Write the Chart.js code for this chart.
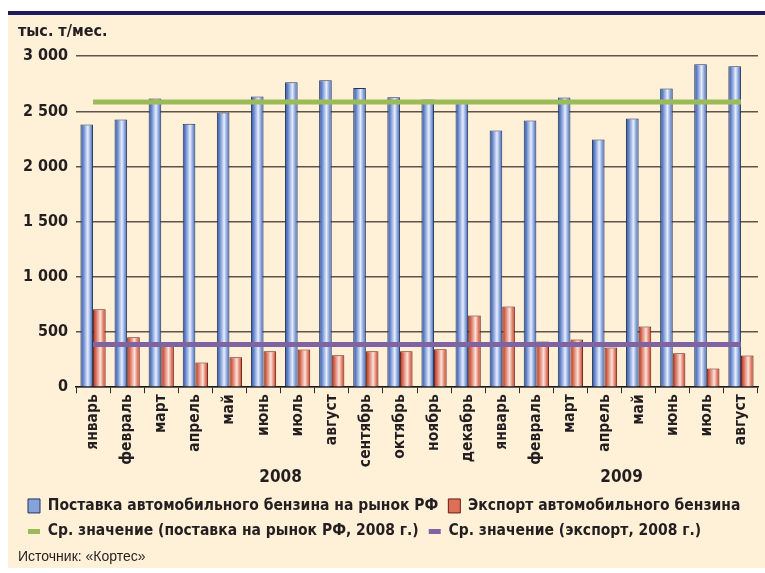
<!DOCTYPE html>
<html>
<head>
<meta charset="utf-8">
<script src="https://cdn.jsdelivr.net/npm/chart.js@4.4.0/dist/chart.umd.min.js"></script>
<style>
  html, body { margin: 0; padding: 0; background: #ffffff; }
  #frame { position: absolute; left: 8px; top: 11px; width: 757px; height: 553px;
           border-top: 4px solid #1f1b5c; background: #fff0d8; }
  canvas { display: block; }
</style>
</head>
<body>
<div id="frame"><canvas id="chart" width="757" height="553"></canvas></div>
<script>
// месяцы (2008: январь-декабрь, 2009: январь-август)
const months = ['январь', 'февраль', 'март', 'апрель', 'май', 'июнь', 'июль', 'август',
  'сентябрь', 'октябрь', 'ноябрь', 'декабрь',
  'январь', 'февраль', 'март', 'апрель', 'май', 'июнь', 'июль', 'август'];
const years = ['2008', '2009'];
const yearCentres = [5.5, 15.5];

// тыс. т/мес.
const supply = [2381, 2427, 2617, 2387, 2490, 2635, 2765, 2783, 2711, 2629, 2608, 2587,
  2327, 2418, 2626, 2246, 2436, 2708, 2926, 2908];
const exportVals = [707, 453, 375, 224, 272, 326, 342, 290, 326, 326, 344, 650,
  731, 414, 432, 360, 550, 308, 169, 287];
const avgSupply2008 = 2585;
const avgExport2008 = 387;
const yTicks = [0, 500, 1000, 1500, 2000, 2500, 3000];

const FONT = '"Liberation Sans Narrow", "Arial Narrow", "DejaVu Sans Condensed", sans-serif';
const INK = '#231f20';
const CAT_PCT = 0.74;

const blueStops = [[0, '#34549a'], [0.2, '#5f80c6'], [0.58, '#e6edff'], [0.85, '#7493d2'], [1, '#3f5fa6']];
const redStops = [[0, '#a52e1b'], [0.2, '#d4654f'], [0.58, '#fde2da'], [0.85, '#dc6f58'], [1, '#b53b26']];

function barGradient(stops, fallback) {
  return (ctx) => {
    const chart = ctx.chart;
    const area = chart.chartArea;
    const x = chart.scales.x;
    if (!area || !x || ctx.type !== 'data') return fallback;
    const centre = x.getPixelForValue(ctx.dataIndex);
    const half = (area.right - area.left) / months.length * CAT_PCT / 2;
    const left = ctx.datasetIndex === 0 ? centre - half : centre;
    const g = chart.ctx.createLinearGradient(left, 0, left + half, 0);
    stops.forEach(([o, c]) => g.addColorStop(o, c));
    return g;
  };
}

function fmt(v) {
  return v >= 1000 ? Math.floor(v / 1000) + ' ' + String(v % 1000).padStart(3, '0') : String(v);
}

Chart.defaults.font.family = FONT;
Chart.defaults.font.weight = 'bold';
Chart.defaults.color = INK;

new Chart(document.getElementById('chart'), {
  type: 'bar',
  data: {
    labels: months,
    datasets: [
      { label: 'Поставка автомобильного бензина на рынок РФ', data: supply,
        backgroundColor: barGradient(blueStops, '#8aa6dc'), borderColor: '#22345e', borderWidth: 1,
        legendColor: '#86a2da' },
      { label: 'Экспорт автомобильного бензина', data: exportVals,
        backgroundColor: barGradient(redStops, '#e07a64'), borderColor: '#6a1b10', borderWidth: 1,
        legendColor: '#dc6f58' },
      // средние за 2008 г.: от первого до последнего месяца (x = индекс категории)
      { type: 'line', label: 'Ср. значение (поставка на рынок РФ, 2008 г.)', order: -1, parsing: false,
        data: [{ x: 0, y: avgSupply2008 }, { x: months.length - 1, y: avgSupply2008 }],
        borderColor: '#9bbb59', borderWidth: 5, pointRadius: 0, legendColor: '#9bbb59' },
      { type: 'line', label: 'Ср. значение (экспорт, 2008 г.)', order: -1, parsing: false,
        data: [{ x: 0, y: avgExport2008 }, { x: months.length - 1, y: avgExport2008 }],
        borderColor: '#8064a2', borderWidth: 5, pointRadius: 0, legendColor: '#8064a2' }
    ]
  },
  options: {
    responsive: false,
    animation: false,
    devicePixelRatio: 1,
    layout: { padding: { left: 10, right: 7, top: 0, bottom: 0 } },
    datasets: { bar: { categoryPercentage: CAT_PCT, barPercentage: 1 } },
    scales: {
      x: {
        type: 'category',
        afterFit: (scale) => { scale.height = 80; },
        grid: { drawOnChartArea: false, drawTicks: true, tickLength: 6, color: '#2a2a2a', offset: true },
        border: { display: true, color: '#1a1a1a', width: 1.5 },
        ticks: { font: { size: 15.5 }, maxRotation: 90, minRotation: 90, autoSkip: false, padding: 1 }
      },
      xYear: {
        type: 'linear', position: 'bottom', weight: 1, offset: false, bounds: 'data',
        min: -0.5, max: months.length - 0.5,
        afterFit: (scale) => { scale.height = 21; },
        grid: { display: false, drawTicks: false, offset: false }, border: { display: false },
        afterBuildTicks: (axis) => { axis.ticks = yearCentres.map(v => ({ value: v })); },
        ticks: { font: { size: 17 }, maxRotation: 0, autoSkip: false, padding: 0,
          callback: (v, i) => years[i] }
      },
      y: {
        min: 0, max: 3000,
        afterFit: (scale) => { scale.width = 58; },
        afterBuildTicks: (axis) => { axis.ticks = yTicks.map(v => ({ value: v })); },
        grid: { drawTicks: false, color: '#5e544c', lineWidth: 1.5 },
        border: { display: false },
        ticks: { font: { size: 16 }, padding: 8, callback: (v) => fmt(v) }
      }
    },
    plugins: {
      tooltip: { enabled: false },
      subtitle: { display: true, text: 'тыс. т/мес.', align: 'start', position: 'top',
        font: { size: 16, weight: 'bold' }, color: INK, padding: { top: 7, bottom: 15 } },
      title: { display: true, text: 'Источник: «Кортес»', align: 'start', position: 'bottom',
        font: { family: '"Liberation Sans", Arial, sans-serif', size: 14, weight: 'normal' },
        color: INK, padding: { top: 0, bottom: 2 } },
      legend: {
        position: 'bottom', align: 'start',
        labels: {
          usePointStyle: true, pointStyleWidth: 12, boxHeight: 14, padding: 10,
          font: { size: 15.5 }, color: INK,
          generateLabels: (chart) => chart.data.datasets.map((ds, i) => ({
            text: ds.label,
            fillStyle: ds.legendColor,
            strokeStyle: ds.type === 'line' ? ds.legendColor : ds.borderColor,
            lineWidth: ds.type === 'line' ? 5 : 1,
            pointStyle: ds.type === 'line' ? 'line' : 'rect',
            fontColor: INK,
            hidden: false,
            datasetIndex: i
          }))
        }
      }
    }
  }
});
</script>
</body>
</html>
